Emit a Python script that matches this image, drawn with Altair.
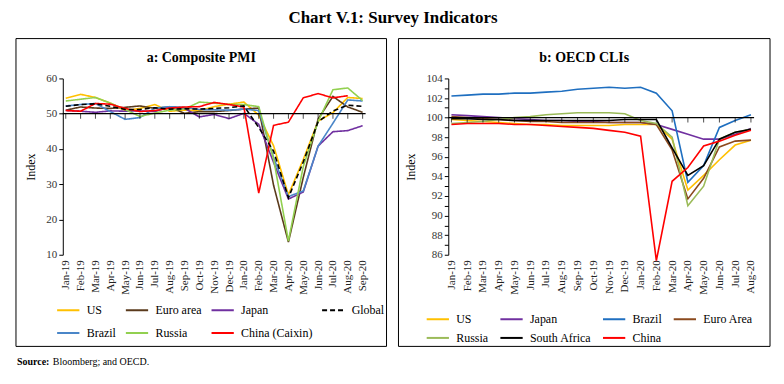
import altair as alt
import pandas as pd

FONT = "Liberation Serif"

# ---------------- Panel a: Composite PMI ----------------
months_a = ["Jan-19", "Feb-19", "Mar-19", "Apr-19", "May-19", "Jun-19", "Jul-19",
            "Aug-19", "Sep-19", "Oct-19", "Nov-19", "Dec-19", "Jan-20", "Feb-20",
            "Mar-20", "Apr-20", "May-20", "Jun-20", "Jul-20", "Aug-20", "Sep-20"]
series_a = ["US", "Euro area", "Japan", "Global", "Brazil", "Russia", "China (Caixin)"]
colors_a = ["#FFC000", "#5A3A1C", "#7030A0", "#000000", "#4A86C8", "#92D050", "#FF0000"]
dashes_a = [[1, 0], [1, 0], [1, 0], [5, 3], [1, 0], [1, 0], [1, 0]]

us_a = [54.4, 55.5, 54.6, 53.0, 50.9, 51.5, 52.6, 50.7, 51.0, 50.9, 52.0, 52.7, 53.3, 49.6, 40.9, 27.0, 37.0, 47.9, 50.3, 54.6, 54.3]
ea_a = [51.0, 51.9, 51.6, 51.5, 51.8, 52.2, 51.5, 51.9, 50.1, 50.6, 50.6, 50.9, 51.3, 51.6, 29.7, 13.6, 31.9, 48.5, 54.9, 51.9, 50.4]
jp_a = [50.9, 50.7, 50.4, 50.8, 50.7, 50.8, 50.6, 51.9, 51.5, 49.1, 49.8, 48.6, 50.1, 47.0, 36.2, 25.8, 27.8, 40.8, 44.9, 45.2, 46.6]
gl_a = [52.1, 52.6, 52.8, 52.1, 51.2, 51.2, 51.7, 51.3, 51.4, 51.3, 51.5, 51.7, 52.2, 46.1, 39.4, 26.2, 36.3, 47.7, 50.8, 52.4, 52.1]
br_a = [52.2, 52.6, 52.9, 50.6, 48.4, 48.9, 51.6, 52.0, 51.8, 51.2, 51.1, 51.0, 51.3, 50.9, 37.6, 26.5, 28.1, 40.8, 47.3, 53.9, 53.6]
ru_a = [53.6, 54.1, 54.6, 53.0, 51.2, 49.2, 50.2, 51.0, 51.3, 53.3, 53.0, 52.6, 52.6, 52.0, 37.2, 13.9, 35.0, 47.8, 56.8, 57.3, 53.7]
cn_a = [50.9, 50.7, 52.9, 52.7, 51.5, 50.6, 50.9, 51.6, 51.9, 52.0, 53.2, 52.6, 51.9, 27.5, 46.7, 47.6, 54.5, 55.7, 54.5, 55.1, None]

# ---------------- Panel b: OECD CLIs ----------------
months_b = months_a[:20]
series_b = ["US", "Japan", "Brazil", "Euro Area", "Russia", "South Africa", "China"]
colors_b = ["#FFC000", "#7030A0", "#1F6FC0", "#8B4A1E", "#9BBB59", "#000000", "#FF0000"]

us_b = [99.8, 99.7, 99.6, 99.5, 99.4, 99.3, 99.3, 99.2, 99.2, 99.2, 99.2, 99.3, 99.3, 99.3, 97.8, 92.6, 94.1, 95.7, 97.2, 97.7]
jp_b = [100.3, 100.2, 100.1, 100.0, 99.9, 99.8, 99.7, 99.7, 99.6, 99.6, 99.5, 99.5, 99.5, 99.3, 98.8, 98.3, 97.8, 97.8, 98.3, 98.9]
br_b = [102.2, 102.3, 102.4, 102.4, 102.5, 102.5, 102.6, 102.7, 102.9, 103.0, 103.1, 103.0, 103.1, 102.5, 100.7, 93.4, 95.1, 99.0, 99.7, 100.3]
ea_b = [100.1, 100.0, 99.9, 99.8, 99.7, 99.6, 99.6, 99.5, 99.5, 99.5, 99.5, 99.5, 99.5, 99.3, 96.7, 91.7, 93.8, 97.0, 97.6, 97.7]
ru_b = [99.4, 99.5, 99.6, 99.8, 100.0, 100.1, 100.3, 100.4, 100.5, 100.5, 100.5, 100.4, 99.7, 99.4, 98.0, 91.0, 93.0, 97.8, 98.5, 98.8]
sa_b = [99.9, 99.9, 99.8, 99.8, 99.7, 99.7, 99.7, 99.7, 99.7, 99.7, 99.7, 99.8, 99.8, 99.8, 96.9, 94.1, 95.1, 97.8, 98.5, 98.8]
cn_b = [99.3, 99.4, 99.4, 99.4, 99.3, 99.3, 99.2, 99.1, 99.0, 98.9, 98.7, 98.5, 98.1, 85.4, 93.5, 94.9, 97.1, 97.6, 98.2, 98.7]

title_main = "Chart V.1: Survey Indicators"
title_a = "a: Composite PMI"
title_b = "b: OECD CLIs"
source_label = "Source:"
source_text = "Bloomberg; and OECD."


def to_long(months, names, arrays):
    rows = []
    for name, arr in zip(names, arrays):
        for m, v in zip(months, arr):
            if v is not None:
                rows.append({"month": m, "series": name, "value": v})
    return pd.DataFrame(rows)


# draw order (Global dashed on top)
df_a = to_long(months_a,
               ["US", "Euro area", "Japan", "Brazil", "Russia", "China (Caixin)", "Global"],
               [us_a, ea_a, jp_a, br_a, ru_a, cn_a, gl_a])
df_b = to_long(months_b, series_b, [us_b, jp_b, br_b, ea_b, ru_b, sa_b, cn_b])

W_A, W_B, H = 304, 307, 177


def legend(x, y, colpad, rowpad):
    return alt.Legend(title=None, orient="none", legendX=x, legendY=y, columns=4,
                      direction="horizontal", symbolType="stroke", symbolSize=500,
                      symbolStrokeWidth=2, labelFont=FONT, labelFontSize=12,
                      labelColor="#000000", labelOffset=6, columnPadding=colpad,
                      rowPadding=rowpad)


def x_axis():
    return alt.Axis(title=None, labelAngle=270, domain=False, ticks=False,
                    labelPadding=5, labelFont=FONT, labelFontSize=11, labelColor="#222222")


def y_axis(values, expr):
    return alt.Axis(values=values, labelExpr=expr, labelOverlap=False,
                    title="Index", grid=False,
                    domainColor="#000000", tickColor="#000000", tickSize=4,
                    labelFont=FONT, labelFontSize=11, labelColor="#333333",
                    titleFont=FONT, titleFontSize=12, titleFontWeight="normal",
                    titleColor="#000000", titlePadding=8)


def panel(df, months, series, colors, width, ydomain, yvalues, ylabelexpr, cross,
          title, leg, border, dashes=None, footer=False):
    xscale = alt.Scale(type="point", domain=months, padding=0.2)
    yscale = alt.Scale(domain=ydomain, nice=False, zero=False)
    X = alt.X("month:N", scale=xscale, axis=x_axis(), title=None)
    Y = alt.Y("value:Q", scale=yscale, axis=y_axis(yvalues, ylabelexpr), title="Index")
    enc = dict(
        x=X, y=Y,
        color=alt.Color("series:N", scale=alt.Scale(domain=series, range=colors), legend=leg),
    )
    if dashes is not None:
        enc["strokeDash"] = alt.StrokeDash("series:N", scale=alt.Scale(domain=series, range=dashes),
                                           legend=leg)
    lines = alt.Chart(df).mark_line(strokeWidth=1.6).encode(**enc)

    rule = alt.Chart(pd.DataFrame({"value": [cross]})).mark_rule(
        color="#000000", strokeWidth=1.2).encode(y=Y)
    ticks = alt.Chart(pd.DataFrame({"month": months, "value": [cross] * len(months)})).mark_tick(
        orient="vertical", size=5, thickness=1, color="#000000", yOffset=2.5).encode(x=X, y=Y)
    one = pd.DataFrame({"k": [0]})
    frame = alt.Chart(one).mark_rect(fillOpacity=0, stroke="#000000", strokeWidth=1).encode(
        x=alt.value(border[0]), x2=alt.value(border[1]),
        y=alt.value(border[2]), y2=alt.value(border[3]))
    head = alt.Chart(one).mark_text(align="center", baseline="middle", font=FONT, fontSize=14,
                                    fontWeight="bold", color="#000000").encode(
        x=alt.value((border[0] + border[1]) / 2), y=alt.value(-21), text=alt.value(title))
    layers = [lines, rule, ticks, frame, head]
    if footer:
        layers.append(alt.Chart(one).mark_text(align="left", baseline="middle", font=FONT,
                                               fontSize=10, fontWeight="bold", color="#000000").encode(
            x=alt.value(-46), y=alt.value(285), text=alt.value(source_label)))
        layers.append(alt.Chart(one).mark_text(align="left", baseline="middle", font=FONT,
                                               fontSize=10, color="#000000").encode(
            x=alt.value(-10), y=alt.value(285), text=alt.value(source_text)))
    return alt.layer(*layers).properties(width=width, height=H)


left = panel(df_a, months_a, series_a, colors_a, W_A, [10, 60], [10, 20, 30, 40, 50, 60], "datum.label",
             50, title_a, legend(-7, 220, 5, 4), (-47, 325, -40, 269),
             dashes=dashes_a, footer=True)
right = panel(df_b, months_b, series_b, colors_b, W_B, [86, 104], list(range(86, 105)),
              "datum.value % 2 == 0 ? datum.label : ''", 100, title_b,
              legend(-23, 229, 7, -8), (-50, 323, -40, 269))

chart = alt.hconcat(left, right, spacing=10).resolve_scale(
    color="independent", strokeDash="independent", x="independent", y="independent"
).properties(
    title=alt.TitleParams(title_main, font=FONT, fontSize=17, fontWeight="bold",
                          color="#000000", anchor="middle", offset=11),
    padding={"left": 7, "top": 0, "right": 5, "bottom": 5},
).configure_view(stroke=None)

chart.save("out.html", embed_options={"renderer": "svg", "actions": False})
